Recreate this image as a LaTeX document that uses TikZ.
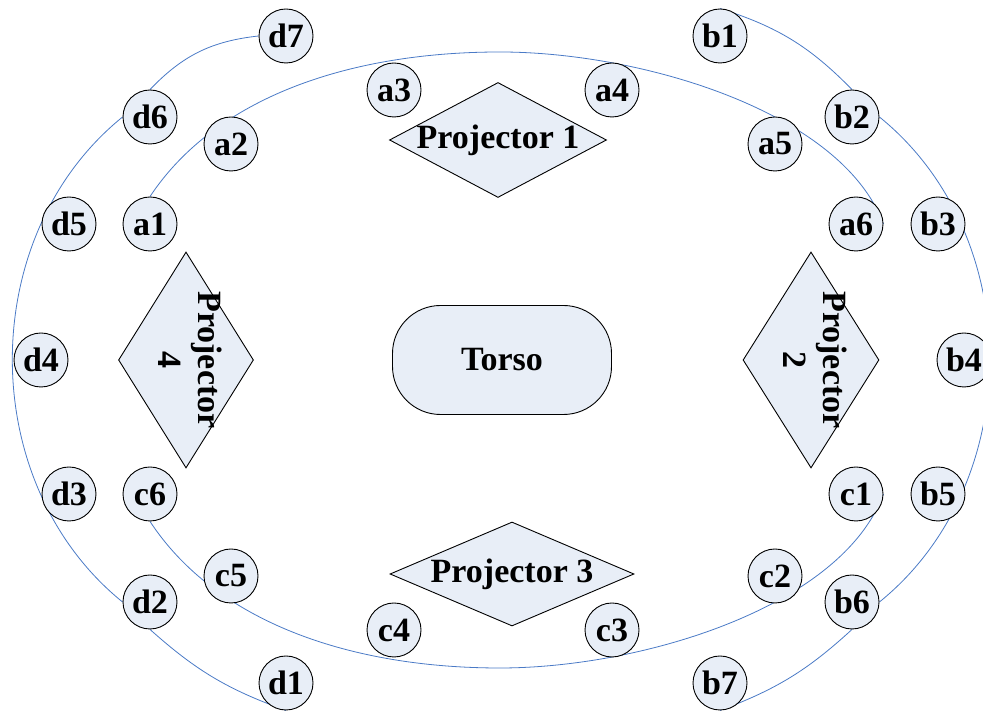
\documentclass[tikz,border=0pt]{standalone}
\usepackage{fontspec}
\setmainfont{Liberation Serif}
\usetikzlibrary{shapes.geometric,backgrounds}
\definecolor{nodefill}{HTML}{E8EEF7}
\definecolor{linkblue}{HTML}{4A7AC6}
\begin{document}
\begin{tikzpicture}[x=1pt,y=1pt,
  station/.style={circle,draw=black,line width=0.9pt,fill=nodefill,minimum size=54pt,inner sep=0pt,font=\fontsize{34}{40}\selectfont\bfseries},
  proj/.style={diamond,draw=black,line width=0.9pt,fill=nodefill,inner sep=0pt},
  ptext/.style={font=\fontsize{34}{40}\selectfont\bfseries,inner sep=0pt,align=center},
  link/.style={draw=linkblue,line width=0.8pt}]
\useasboundingbox (0,0) rectangle (983,711);

% left outer ring
\node[station] (d7) at (286,675) {d7};
\node[station] (d6) at (150,594) {d6};
\node[station] (d5) at (69,487) {d5};
\node[station] (d4) at (41,351) {d4};
\node[station] (d3) at (69,217) {d3};
\node[station] (d2) at (150,109) {d2};
\node[station] (d1) at (286,28) {d1};
% inner top
\node[station] (a1) at (150,487) {a1};
\node[station] (a2) at (231,567) {a2};
\node[station] (a3) at (394,621) {a3};
\node[station] (a4) at (612,621) {a4};
\node[station] (a5) at (775,567) {a5};
\node[station] (a6) at (856,487) {a6};
% inner bottom
\node[station] (c6) at (150,217) {c6};
\node[station] (c5) at (231,135) {c5};
\node[station] (c4) at (394,81) {c4};
\node[station] (c3) at (612,81) {c3};
\node[station] (c2) at (775,135) {c2};
\node[station] (c1) at (856,217) {c1};
% right outer ring
\node[station] (b1) at (720,675) {b1};
\node[station] (b2) at (852,594) {b2};
\node[station] (b3) at (938,487) {b3};
\node[station] (b4) at (964,351) {b4};
\node[station] (b5) at (938,217) {b5};
\node[station] (b6) at (852,109) {b6};
\node[station] (b7) at (720,28) {b7};

% projectors
\node[proj,minimum width=217pt,minimum height=115pt] (p1) at (498,571) {};
\node[ptext] (p1t) at (p1.center) {Projector 1};
\node[proj,minimum width=244pt,minimum height=104pt] (p3) at (512,137) {};
\node[ptext] (p3t) at (p3.center) {Projector 3};
\node[proj,minimum width=135pt,minimum height=216pt] (p4) at (186,351) {};
\node[ptext,rotate=-90] (p4t) at (190,351) {Projector\\4};
\node[proj,minimum width=136pt,minimum height=216pt] (p2) at (811,351) {};
\node[ptext,rotate=-90] (p2t) at (815,351) {Projector\\2};

% torso
\node[draw=black,line width=0.9pt,fill=nodefill,rounded corners=48pt,minimum width=219pt,minimum height=109pt,font=\fontsize{34}{40}\selectfont\bfseries] (torso) at (502,351) {Torso};

\begin{scope}[on background layer]
  \coordinate (topmid) at (500,659);
  \coordinate (botmid) at (500,43);
  \draw[link] (a1.north) .. controls (216,614) and (350,659) .. (topmid)
              .. controls (640,659) and (841,600) .. (a6.east);
  \draw[link] (c6.south) .. controls (216,89) and (350,43) .. (botmid)
              .. controls (640,43) and (841,103) .. (c1.east);
  \draw[link] (d7.west) to[bend right=20] (d6.north);
  \draw[link] (d6.west) to[bend right=51] (d2.west);
  \draw[link] (d2.south) to[bend right=11] (d1.south);
  \draw[link] (b1.north) to[bend left=14] (b2.north);
  \draw[link] (b2.east) to[bend left=51] (b6.east);
  \draw[link] (b6.south) to[bend left=11] (b7.south);
\end{scope}
\end{tikzpicture}
\end{document}
